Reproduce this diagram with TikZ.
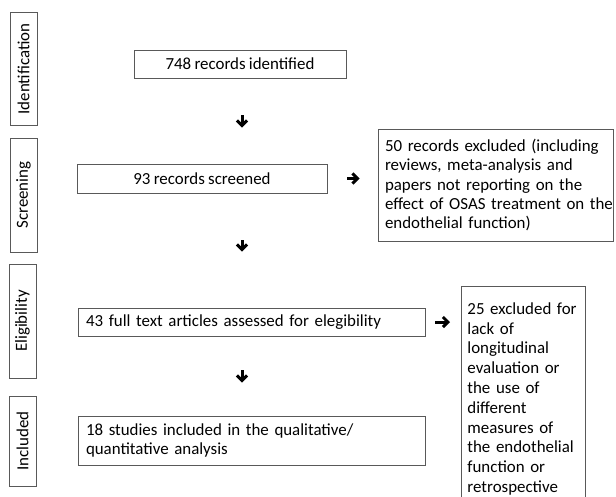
\documentclass[tikz,border=0pt]{standalone}
\usepackage{fontspec}
\setmainfont[WordSpace=0.85]{Carlito}
\usetikzlibrary{arrows.meta}
\begin{document}
\begin{tikzpicture}[x=1pt,y=-1pt,
  box/.style={draw=black!65, line width=0.9pt, inner sep=0pt, font=\fontsize{16.9}{19.4}\selectfont},
  stage/.style={box, rotate=90, minimum height=27pt},
  arr/.style={line width=3pt, -{Straight Barb[length=5pt,width=10pt]}}]
\useasboundingbox (0,0) rectangle (616,496);
% stage labels
\node[stage, minimum width=113pt] (ident) at (23.5,69) {Identification};
\node[stage, minimum width=114pt] (screen) at (23.5,195) {Screening};
\node[stage, minimum width=114pt] (elig) at (22.5,321) {Eligibility};
\node[stage, minimum width=90pt] (incl) at (22.5,441) {Included};
% flow boxes
\node[box, minimum width=235pt, minimum height=112pt, text width=221pt, align=left] (exc50) at (495.5,185)
  {50 records excluded (including\\ reviews, meta-analysis and\\ papers not reporting on the\\ \mbox{effect of OSAS treatment on the}\\ endothelial function)};
\node[box, minimum width=212pt, minimum height=28pt] (rec748) at (240,64) {748 records identified};
\node[box, minimum width=250pt, minimum height=29pt] (rec93) at (202,178.5) {93 records screened};
\node[box, minimum width=347pt, minimum height=28pt, text width=331pt, align=left] (full43) at (251.5,322)
  {43 full text articles assessed for elegibility};
\node[box, minimum width=347pt, minimum height=49pt, text width=331pt, align=left] (inc18) at (251.5,440.5)
  {18 studies included in the qualitative/\\ quantitative analysis};
\node[box, anchor=north west, text width=112pt, inner xsep=6pt, inner ysep=6pt, align=left,
  minimum height=225pt, font=\fontsize{16.9}{19.8}\selectfont] (exc25) at (461,286)
  {25 excluded for\\ lack of\\ longitudinal\\ evaluation or\\ the use of\\ different\\ measures of\\ the endothelial\\ function or\\ retrospective};
% arrows
\draw[arr, shorten <=37pt, shorten >=36pt] ([xshift=2pt]rec748.south) -- ([xshift=2pt]rec748.south |- rec93.north);
\draw[arr, shorten <=47pt, shorten >=56pt] ([xshift=40pt]rec93.south) -- ([xshift=40pt]rec93.south |- full43.north);
\draw[arr, shorten <=34pt, shorten >=33pt] ([xshift=-9.5pt]full43.south) -- ([xshift=-9.5pt]full43.south |- inc18.north);
\draw[arr, shorten <=20pt, shorten >=18pt] (rec93.east) -- (rec93.east -| exc50.west);
\draw[arr, shorten <=10pt, shorten >=11pt] (full43.east) -- (full43.east -| exc25.west);
\end{tikzpicture}
\end{document}
